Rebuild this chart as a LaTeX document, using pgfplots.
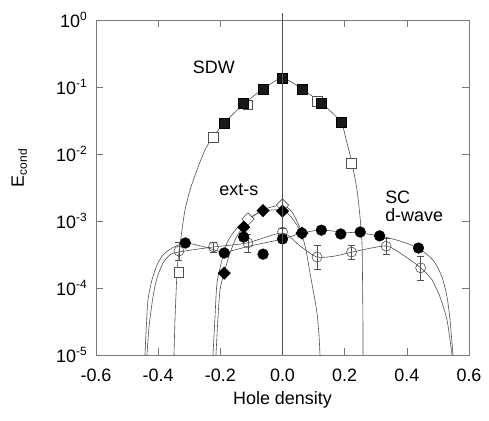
\documentclass[border=0pt]{standalone}
\usepackage{fontspec}
\setmainfont{Liberation Sans}
\usepackage{pgfplots}
\pgfplotsset{compat=1.18}
\definecolor{curve}{HTML}{505050}
\definecolor{frame}{HTML}{7A7A7A}
\newcommand{\sz}{\fontsize{18}{21}\selectfont}
\newcommand{\sups}[1]{\raisebox{0.42em}{\fontsize{12}{13}\selectfont #1}}
\begin{document}
\sz
\begin{tikzpicture}
\begin{axis}[
  scale only axis, width=373bp, height=335bp,
  ymode=log, xmin=-0.6, xmax=0.6, ymin=1e-5, ymax=1,
  xtick={-0.6,-0.4,-0.2,0,0.2,0.4,0.6},
  xticklabels={-0.6,-0.4,-0.2,0.0,0.2,0.4,0.6},
  ytick={1e-5,1e-4,1e-3,1e-2,1e-1,1},
  yticklabels={{10\sups{-5}},{10\sups{-4}},{10\sups{-3}},{10\sups{-2}},{10\sups{-1}},{10\sups{0}}},
  yminorticks=false, xminorticks=false,
  tick align=inside, major tick length=7bp,
  axis line style={frame, line width=0.6pt}, tick style={frame, line width=0.6pt},
  tick label style={font=\sz},
  xticklabel style={yshift=-8bp},
  yticklabel style={xshift=-3bp},
  label style={font=\sz},
  xlabel={Hole density}, ylabel={E{\fontsize{12}{13}\selectfont\raisebox{-0.25em}{cond}}},
  xlabel style={at={(axis description cs:0.5,-0.134)}, anchor=center},
  ylabel style={at={(axis description cs:-0.206,0.558)}, anchor=center},
  clip mode=individual,
]
\coordinate (bl) at (rel axis cs:0,0);
\coordinate (tr) at (rel axis cs:1,1);
% SDW curve
\addplot[curve, line width=0.6pt, smooth, tension=0.4] table {
x y
-0.3491 1e-5
-0.3459 3.33e-5
-0.3427 7.87e-5
-0.3394 1.73e-4
-0.3362 2.62e-4
-0.3298 4.39e-4
-0.3234 7.34e-4
-0.3137 1.46e-3
-0.2976 2.90e-3
-0.2751 5.77e-3
-0.2494 0.0115
-0.2236 0.0179
-0.1875 0.029
-0.125 0.0557
-0.0625 0.0933
0 0.136
0.0625 0.0933
0.125 0.0577
0.1875 0.030
0.2075 0.0146
0.2236 7.34e-3
0.2397 2.90e-3
0.2494 1.15e-3
0.2558 4.70e-4
0.2574 1.46e-4
0.2588 3.33e-5
0.259 1e-5
};
% ext-s open curve
\addplot[curve, line width=0.6pt, smooth, tension=0.4] table {
x y
-0.2236 1e-5
-0.2172 3.69e-5
-0.2107 1.19e-4
-0.1947 2.62e-4
-0.1786 4.70e-4
-0.1593 6.62e-4
-0.1368 8.71e-4
-0.1110 1.07e-3
-0.0563 1.51e-3
0 1.73e-3
0.0306 1.36e-3
0.0563 7.87e-4
0.0756 3.69e-4
0.0885 1.67e-4
0.1014 7.87e-5
0.1110 4.24e-5
0.1174 1.99e-5
0.1206 1e-5
};
% ext-s filled curve
\addplot[curve, line width=0.6pt, smooth, tension=0.4] table {
x y
-0.2140 1e-5
-0.2075 3.69e-5
-0.2011 9.33e-5
-0.1882 1.67e-4
-0.1689 3.33e-4
-0.1496 5.57e-4
-0.1271 8.13e-4
-0.0981 1.15e-3
-0.0627 1.41e-3
0 1.46e-3
0.0306 1.11e-3
0.0627 6.62e-4
};
% SC filled curve
\addplot[curve, line width=0.6pt, smooth, tension=0.4] table {
x y
-0.4424 1e-5
-0.4392 2.13e-5
-0.4328 6.62e-5
-0.4199 1.32e-4
-0.4038 2.20e-4
-0.3845 3.11e-4
-0.3555 3.95e-4
-0.3137 4.70e-4
-0.2494 4.09e-4
-0.1882 3.44e-4
-0.1046 4.24e-4
0 5.38e-4
0.0627 6.62e-4
0.1239 7.34e-4
0.1882 6.85e-4
0.2494 6.62e-4
0.3137 5.97e-4
0.3780 5.03e-4
0.4360 3.95e-4
0.4843 2.62e-4
0.5132 1.46e-4
0.5293 7.34e-5
0.5390 3.33e-5
0.5486 1e-5
};
% SC open curve
\addplot[curve, line width=0.6pt, smooth, tension=0.4] table {
x y
-0.4359 1e-5
-0.4295 2.62e-5
-0.4167 7.34e-5
-0.4038 1.41e-4
-0.3845 2.36e-4
-0.3620 3.11e-4
-0.3362 3.44e-4
-0.2236 4.09e-4
-0.1142 4.70e-4
0 6.62e-4
0.0563 4.24e-4
0.1110 2.90e-4
0.1689 3.00e-4
0.2236 3.44e-4
0.3330 4.24e-4
0.3877 3.11e-4
0.4456 1.99e-4
0.4810 1.32e-4
0.5068 7.34e-5
0.5293 3.33e-5
0.5454 1e-5
};
% SC open circles with error bars
\addplot[only marks, mark=o, mark size=5bp, mark options={curve, line width=0.6pt},
  error bars/.cd, y dir=both, y explicit,
  error bar style={curve, line width=0.6pt},
  error mark options={curve, line width=0.6pt, mark size=3.5bp, rotate=90}]
  table[x=x, y=y, y error plus=ep, y error minus=em] {
x y ep em
-0.3333 3.56e-4 1.29e-4 0.95e-4
-0.2222 4.09e-4 0.76e-4 0.64e-4
-0.1111 4.70e-4 1.70e-4 1.25e-4
0 6.85e-4 1.00e-4 0.88e-4
0.1111 2.90e-4 1.48e-4 0.98e-4
0.2222 3.44e-4 0.94e-4 0.74e-4
0.3333 4.20e-4 1.33e-4 1.01e-4
0.4444 2.00e-4 1.02e-4 0.68e-4
};
% SC filled circles
\addplot[only marks, mark=*, mark size=5.4bp, mark options={fill=black, draw=black}] table {
x y
-0.3125 4.7e-4
-0.1875 3.33e-4
-0.125 5.77e-4
-0.0625 3.2e-4
0 5.4e-4
0.0625 6.6e-4
0.125 7.3e-4
0.1875 6.4e-4
0.25 6.85e-4
0.3125 6.0e-4
0.4375 3.95e-4
};
% ext-s open diamonds
\addplot[only marks, mark=square*, mark size=4.4bp, mark options={rotate=45, fill=white, draw=curve, line width=0.6pt}] table {
x y
-0.1111 1.07e-3
0 1.73e-3
};
% ext-s filled diamonds
\addplot[only marks, mark=square*, mark size=4.4bp, mark options={rotate=45, fill=black, draw=black}] table {
x y
-0.1875 1.67e-4
-0.125 8.1e-4
-0.0625 1.43e-3
0 1.41e-3
0.0625 6.6e-4
};
% SDW open squares
\addplot[only marks, mark=square*, mark size=4.8bp, mark options={fill=white, draw=curve, line width=0.6pt}] table {
x y
-0.3333 1.73e-4
-0.2222 0.0179
-0.1111 0.054
0.1111 0.0618
0.2222 7.34e-3
};
% SDW filled squares
\addplot[only marks, mark=square*, mark size=5bp, mark options={fill=black!90, draw=black}] table {
x y
-0.1875 0.029
-0.125 0.0577
-0.0625 0.093
0 0.136
0.0625 0.093
0.125 0.0577
0.1875 0.030
};
\draw[curve, line width=0.6pt] (axis cs:0,1e-5) -- (axis cs:0,1.27);
\node[anchor=center, font=\sz] at (axis description cs:0.316,0.860) {SDW};
\node[anchor=center, font=\sz] at (axis description cs:0.383,0.493) {ext-s};
\node[anchor=west, inner sep=0pt, font=\sz] at (axis description cs:0.775,0.472) {SC};
\node[anchor=west, inner sep=0pt, font=\sz] at (axis description cs:0.775,0.418) {d-wave};
\end{axis}
\pgfresetboundingbox
\path ([shift={(-96bp,-66bp)}]bl) rectangle ([shift={(20bp,20bp)}]tr);
\end{tikzpicture}
\end{document}
